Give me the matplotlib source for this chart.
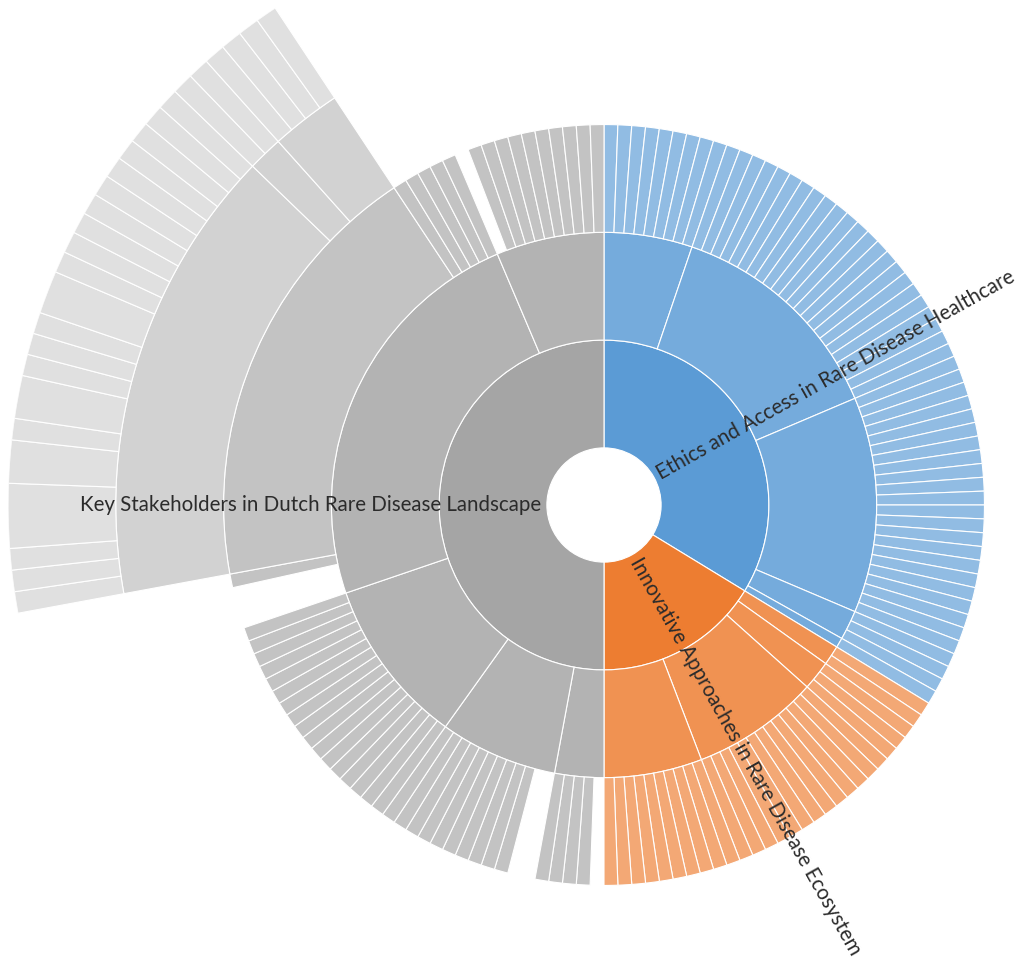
import numpy as np
import matplotlib
matplotlib.use("Agg")
import matplotlib.pyplot as plt
import matplotlib.colors as mcolors

# ---------------- data ----------------
level1_labels = [
    "Ethics and Access in Rare Disease Healthcare",
    "Innovative Approaches in Rare Disease Ecosystem",
    "Key Stakeholders in Dutch Rare Disease Landscape",
]
level1_colors = ["#5B9BD5", "#ED7D31", "#A5A5A5"]

# angular sizes per ring, in angular order (negative = empty space in that ring)
ring1 = [58, 28, 86]
ring2 = [9, 23, 22, 3, 1,
         2, 3, 13, 10,
         5, 12, 17, 41, 11]
ring3 = [
    # Ethics and Access (58 leaves)
    1, 1, 1, 1, 1, 1, 1, 1, 1,
    1, 1, 1, 1, 1, 1, 1, 1, 1, 1, 1, 1, 1, 1, 1, 1, 1, 1, 1, 1, 1, 1, 1,
    1, 1, 1, 1, 1, 1, 1, 1, 1, 1, 1, 1, 1, 1, 1, 1, 1, 1, 1, 1, 1, 1,
    1, 1, 1,
    1,
    # Innovative Approaches (28 leaves)
    1, 1,
    1, 1, 1,
    1, 1, 1, 1, 1, 1, 1, 1, 1, 1, 1, 1, 1,
    1, 1, 1, 1, 1, 1, 1, 1, 1, 1,
    # Key Stakeholders
    -1, 1, 1, 1, 1,
    -2, 1, 1, 1, 1, 1, 1, 1, 1, 1, 1,
    1, 1, 1, 1, 1, 1, 1, 1, 1, 1, 1, 1, 1, 1, 1, 1, 1,
    -3, 1, 32, 1, 1, 1, 1, 1,
    -1, 1, 1, 1, 1, 1, 1, 1, 1, 1, 1,
]
ring4 = [-124, 26, 2, 4, -16]
ring5 = [-124,
         1, 1, 1, 3, 2, 1, 2, 1, 1, 1, 2, 1, 1, 1, 1, 1, 1, 1, 1, 1, 1,
         1, 1,
         1, 1, 1, 1,
         -16]

rings = [ring1, ring2, ring3, ring4, ring5]
tints = [0.0, 0.16, 0.33, 0.50, 0.65]

# ---------------- figure ----------------
W, H, DPI = 1024, 961, 100
fig = plt.figure(figsize=(W / DPI, H / DPI), dpi=DPI)
fig.patch.set_facecolor("white")
cx, cy, R = 604, 505, 596
ax = fig.add_axes([(cx - R) / W, (H - cy - R) / H, 2 * R / W, 2 * R / H],
                  projection="polar")
ax.set_theta_zero_location("N")
ax.set_theta_direction(-1)
hole = 0.53
ax.set_ylim(0, hole + len(rings))
ax.set_axis_off()

total = sum(ring1)
bounds1 = np.cumsum([0] + ring1)


def tint(c, f):
    rgb = np.array(mcolors.to_rgb(c))
    return tuple(rgb + (1 - rgb) * f)


for lvl, ring in enumerate(rings):
    thetas, widths, colors = [], [], []
    start = 0
    for v in ring:
        size = abs(v)
        if v > 0:
            parent = np.searchsorted(bounds1, start, side="right") - 1
            thetas.append(2 * np.pi * start / total)
            widths.append(2 * np.pi * size / total)
            colors.append(tint(level1_colors[parent], tints[lvl]))
        start += size
    ax.bar(thetas, 1.0, width=widths, bottom=hole + lvl, align="edge",
           color=colors, edgecolor="white", linewidth=0.8)

for i, lab in enumerate(level1_labels):
    mid = np.pi * (bounds1[i] + bounds1[i + 1]) / total
    rot = 90 - np.degrees(mid)
    ha = "left"
    if rot < -90:
        rot += 180
        ha = "right"
    ax.text(mid, hole + 0.05, lab, rotation=rot, rotation_mode="anchor",
            ha=ha, va="center", fontsize=14.8, family="Lato", color="#2b2b2b")

fig.savefig("out.png", dpi=DPI)
